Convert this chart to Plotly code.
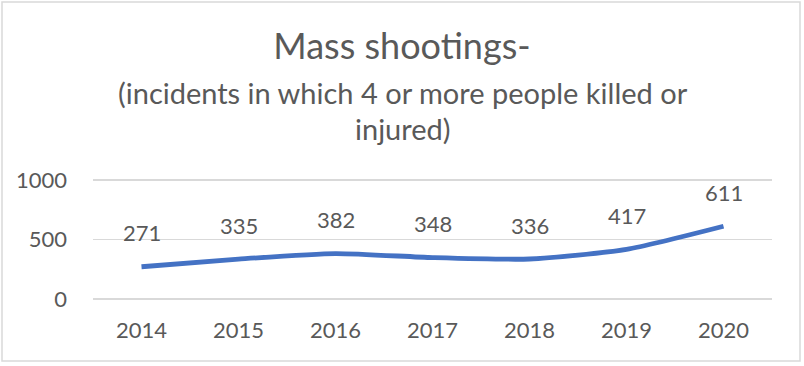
import plotly.graph_objects as go

years = ["2014", "2015", "2016", "2017", "2018", "2019", "2020"]
incidents = [271, 335, 382, 348, 336, 417, 611]
y_ticks = [0, 500, 1000]

title_text = "Mass shootings-"
subtitle_lines = ["(incidents in which 4 or more people killed or", "injured)"]

FONT = "Lato, 'Open Sans', sans-serif"
GRAY = "#595959"

# plot area: y=0 at px 299, y=1000 at px 180 (119 px per 1000)
PAD = 2 / 119 * 1000  # small padding so edge gridlines are drawn

fig = go.Figure()
fig.add_trace(go.Scatter(
    x=years, y=incidents, mode="lines",
    line=dict(color="#4472C4", width=4.8, shape="spline", smoothing=0.6),
    hoverinfo="skip", showlegend=False,
))

for i, v in enumerate(incidents):
    fig.add_annotation(x=i, y=v, xref="x", yref="y", text=str(v), showarrow=False,
                       yshift=34, font=dict(family=FONT, size=22, color=GRAY))

# plot-area pixel frame: top=178, bottom=301, left=93, right=772
H = 123.0
W = 679.0
def py(p):
    return (301 - p) / H
def px(p):
    return (p - 93) / W

for text, ypix in zip(subtitle_lines, [93, 128]):
    fig.add_annotation(xref="paper", yref="paper", x=px(403), y=py(ypix), text=text,
                       showarrow=False, xanchor="center", yanchor="middle",
                       font=dict(family=FONT, size=29, color=GRAY))

# chart border
fig.add_shape(type="rect", xref="paper", yref="paper",
              x0=px(2), x1=px(800), y0=py(361), y1=py(2),
              line=dict(color="#d9d9d9", width=1.5), layer="above")

fig.update_layout(
    width=804, height=366,
    margin=dict(l=93, r=32, t=178, b=65, autoexpand=False),
    paper_bgcolor="white", plot_bgcolor="white",
    title=dict(text=title_text, x=0.5, xref="container", xanchor="center",
               y=1 - 46 / 366, yref="container", yanchor="middle",
               font=dict(family=FONT, size=36, color=GRAY)),
    xaxis=dict(type="category", range=[-0.5, 6.5], showgrid=False, zeroline=False,
               showline=False, ticks="", ticklabelstandoff=14, automargin=False,
               tickfont=dict(family=FONT, size=22, color=GRAY)),
    yaxis=dict(range=[-PAD, 1000 + PAD], tickvals=y_ticks,
               ticktext=[str(t) for t in y_ticks],
               showgrid=True, gridcolor="#d9d9d9", gridwidth=1.5, zeroline=False,
               showline=False, ticks="", ticklabelstandoff=25, automargin=False,
               tickfont=dict(family=FONT, size=22, color=GRAY)),
)

fig.write_html("out.html",
               config={"displayModeBar": False, "staticPlot": True},
               post_script="document.body.style.margin='0';document.body.style.overflow='hidden';")
